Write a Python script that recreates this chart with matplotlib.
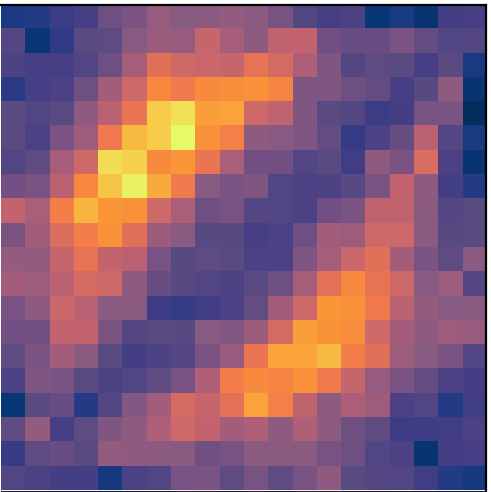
import numpy as np
import matplotlib
matplotlib.use("Agg")
import matplotlib.pyplot as plt
from matplotlib.colors import LinearSegmentedColormap

row00 = [.14,.16,.20,.24,.34,.37,.44,.40,.41,.43,.41,.36,.28,.24,.26,.08,.13,.07,.23,.24]
row01 = [.28,.08,.18,.30,.31,.40,.45,.44,.56,.48,.42,.54,.55,.35,.33,.33,.37,.32,.27,.28]
row02 = [.26,.24,.24,.27,.34,.48,.65,.60,.58,.56,.67,.62,.50,.38,.28,.31,.30,.24,.30,.13]
row03 = [.17,.24,.25,.34,.47,.60,.75,.71,.76,.77,.78,.74,.38,.38,.34,.32,.24,.29,.42,.07]
row04 = [.30,.27,.30,.42,.53,.68,.88,.93,.81,.82,.60,.54,.38,.30,.28,.21,.23,.36,.37,.03]
row05 = [.30,.25,.37,.46,.70,.85,.88,1.0,.78,.73,.42,.40,.38,.32,.19,.25,.33,.53,.28,.13]
row06 = [.27,.31,.48,.60,.92,.89,.76,.80,.68,.49,.35,.35,.27,.30,.22,.42,.37,.63,.25,.07]
row07 = [.35,.37,.53,.75,.87,.98,.83,.71,.40,.37,.38,.27,.25,.26,.29,.37,.55,.42,.23,.16]
row08 = [.55,.49,.72,.84,.80,.78,.60,.49,.34,.36,.28,.27,.25,.35,.37,.54,.54,.41,.28,.30]
row09 = [.37,.47,.64,.72,.78,.65,.45,.41,.29,.29,.24,.25,.34,.47,.46,.60,.60,.41,.29,.30]
row10 = [.43,.43,.57,.67,.55,.53,.36,.29,.31,.30,.25,.25,.38,.48,.58,.65,.47,.37,.31,.41]
row11 = [.47,.46,.53,.62,.60,.42,.33,.29,.27,.26,.30,.34,.48,.66,.75,.67,.60,.40,.46,.28]
row12 = [.36,.42,.58,.52,.41,.41,.21,.19,.22,.25,.32,.47,.60,.80,.78,.71,.53,.43,.40,.41]
row13 = [.35,.35,.55,.55,.37,.28,.30,.29,.40,.39,.45,.62,.81,.79,.77,.60,.47,.42,.46,.44]
row14 = [.31,.37,.47,.41,.30,.23,.26,.28,.37,.44,.68,.82,.82,.85,.72,.65,.46,.40,.37,.27]
row15 = [.25,.38,.37,.30,.25,.27,.31,.36,.50,.72,.76,.74,.78,.71,.56,.44,.37,.32,.25,.23]
row16 = [.08,.30,.33,.16,.28,.39,.47,.62,.57,.66,.82,.73,.54,.42,.49,.46,.25,.27,.16,.22]
row17 = [.31,.43,.24,.31,.38,.42,.50,.60,.55,.47,.50,.42,.50,.42,.34,.31,.21,.21,.22,.25]
row18 = [.19,.31,.33,.30,.43,.42,.41,.41,.35,.36,.41,.41,.41,.36,.34,.27,.25,.07,.23,.24]
row19 = [.27,.25,.23,.23,.12,.25,.27,.36,.37,.31,.36,.31,.36,.42,.30,.28,.27,.22,.16,.12]
rows = [row00,row01,row02,row03,row04,row05,row06,row07,row08,row09,
        row10,row11,row12,row13,row14,row15,row16,row17,row18,row19]

cmap = LinearSegmentedColormap.from_list("thermal_like", [
    (0.00,"#022a50"),(0.08,"#0a3778"),(0.15,"#203a85"),(0.20,"#3c3c85"),
    (0.25,"#4b4185"),(0.30,"#5a4b82"),(0.35,"#735082"),(0.40,"#875a82"),
    (0.45,"#9b5c7d"),(0.50,"#af5f78"),(0.55,"#c3646e"),(0.60,"#cd6969"),
    (0.65,"#e1705a"),(0.70,"#f07850"),(0.75,"#f88741"),(0.80,"#fa9637"),
    (0.85,"#f8b941"),(0.90,"#f5d750"),(0.95,"#eee65a"),(1.00,"#e6fa69")])

fig = plt.figure(figsize=(4.91,4.92), dpi=100)
ax = fig.add_axes([1/491, 1-490.5/492, 485/491, 485.5/492])
ax.imshow(np.array(rows), cmap=cmap, vmin=0, vmax=1, aspect="auto", interpolation="nearest")
ax.set_xticks([]); ax.set_yticks([])
ax.spines["left"].set_visible(False)
ax.spines["bottom"].set_linewidth(0.8)
ax.spines["bottom"].set_color("#222222")
ax.spines["top"].set_linewidth(1.6)
ax.spines["right"].set_linewidth(1.6)
fig.savefig("out.png", dpi=100)
